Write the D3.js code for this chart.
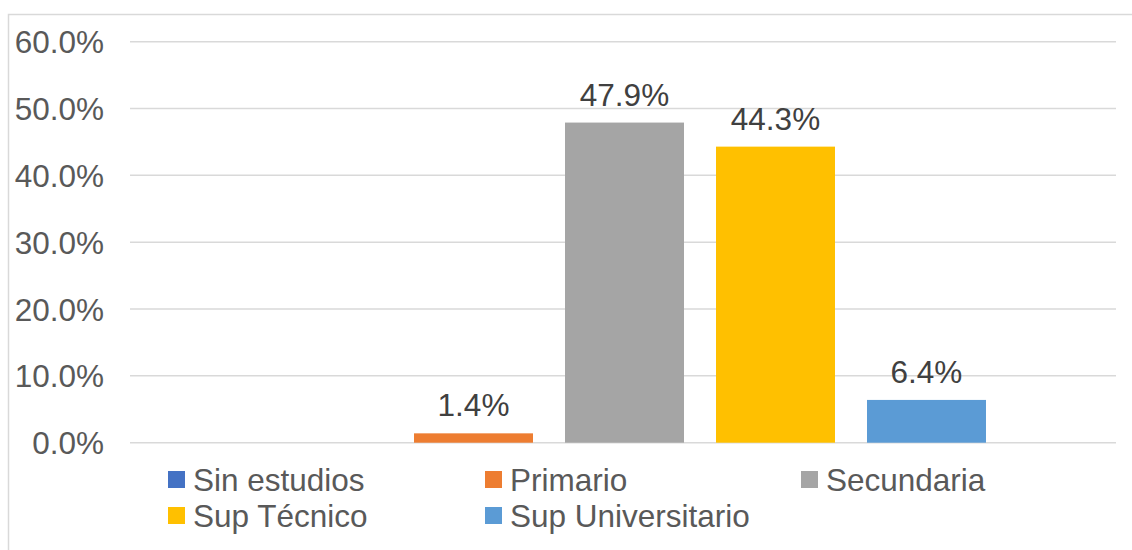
<!DOCTYPE html>
<html>
<head>
<meta charset="utf-8">
<script src="https://cdn.jsdelivr.net/npm/d3@7"></script>
<style>
  body { margin: 0; background: #fff; }
  svg text { font-family: "Liberation Sans", Arial, sans-serif; }
</style>
</head>
<body>
<div id="chart"></div>
<script>
(function(){

    var series = ["Sin estudios", "Primario", "Secundaria", "Sup Técnico", "Sup Universitario"];
    var values = [0, 1.4, 47.9, 44.3, 6.4];
    var colors = ["#4472C4", "#ED7D31", "#A5A5A5", "#FFC000", "#5B9BD5"];
    var yTicks = [0, 10, 20, 30, 40, 50, 60];

    var width = 1132, height = 550;

    var svg = d3.select("#chart")
      .append("svg")
      .attr("width", width)
      .attr("height", height);

    // chart frame
    svg.append("rect")
      .attr("x", 8.5).attr("y", 14.5)
      .attr("width", 1140).attr("height", 560)
      .attr("fill", "none")
      .attr("stroke", "#d9d9d9")
      .attr("stroke-width", 1.5);

    var y = d3.scaleLinear().domain([0, 60]).range([442.7, 41.7]);

    var x = d3.scaleBand()
      .domain(series)
      .range([131.5, 1117.5])
      .paddingInner(0.212)
      .paddingOuter(0.871);

    // gridlines
    svg.append("g").selectAll("line")
      .data(yTicks)
      .enter()
      .append("line")
      .attr("x1", 130).attr("x2", 1116)
      .attr("y1", function(d){ return y(d); })
      .attr("y2", function(d){ return y(d); })
      .attr("stroke", "#d9d9d9")
      .attr("stroke-width", 1.5);

    // y axis labels
    svg.append("g").selectAll("text")
      .data(yTicks)
      .enter()
      .append("text")
      .attr("x", 104)
      .attr("y", function(d){ return y(d) + 11.5; })
      .attr("text-anchor", "end")
      .attr("font-size", "31.5px")
      .attr("fill", "#595959")
      .text(function(d){ return d.toFixed(1) + "%"; });

    // bars
    svg.append("g").selectAll("rect")
      .data(values)
      .enter()
      .append("rect")
      .attr("x", function(d, i){ return x(series[i]); })
      .attr("y", function(d){ return y(d); })
      .attr("width", x.bandwidth())
      .attr("height", function(d){ return y(0) - y(d); })
      .attr("fill", function(d, i){ return colors[i]; });

    // data labels (zero bar has none)
    svg.append("g").selectAll("text")
      .data(values.map(function(v, i){ return {v: v, s: series[i]}; }).filter(function(d){ return d.v > 0; }))
      .enter()
      .append("text")
      .attr("x", function(d){ return x(d.s) + x.bandwidth() / 2; })
      .attr("y", function(d){ return y(d.v) - 17; })
      .attr("text-anchor", "middle")
      .attr("font-size", "31.5px")
      .attr("fill", "#404040")
      .text(function(d){ return d.v.toFixed(1) + "%"; });

    // legend
    var legendX = [168, 485, 801];
    var legend = svg.append("g").selectAll("g")
      .data(series)
      .enter()
      .append("g")
      .attr("transform", function(d, i){
        return "translate(" + legendX[i % 3] + "," + (471 + Math.floor(i / 3) * 36) + ")";
      });

    legend.append("rect")
      .attr("width", 17).attr("height", 17)
      .attr("fill", function(d, i){ return colors[i]; });

    legend.append("text")
      .attr("x", 25)
      .attr("y", 19.5)
      .attr("font-size", "31.5px")
      .attr("fill", "#595959")
      .text(function(d){ return d; });

})();
</script>
</body>
</html>
